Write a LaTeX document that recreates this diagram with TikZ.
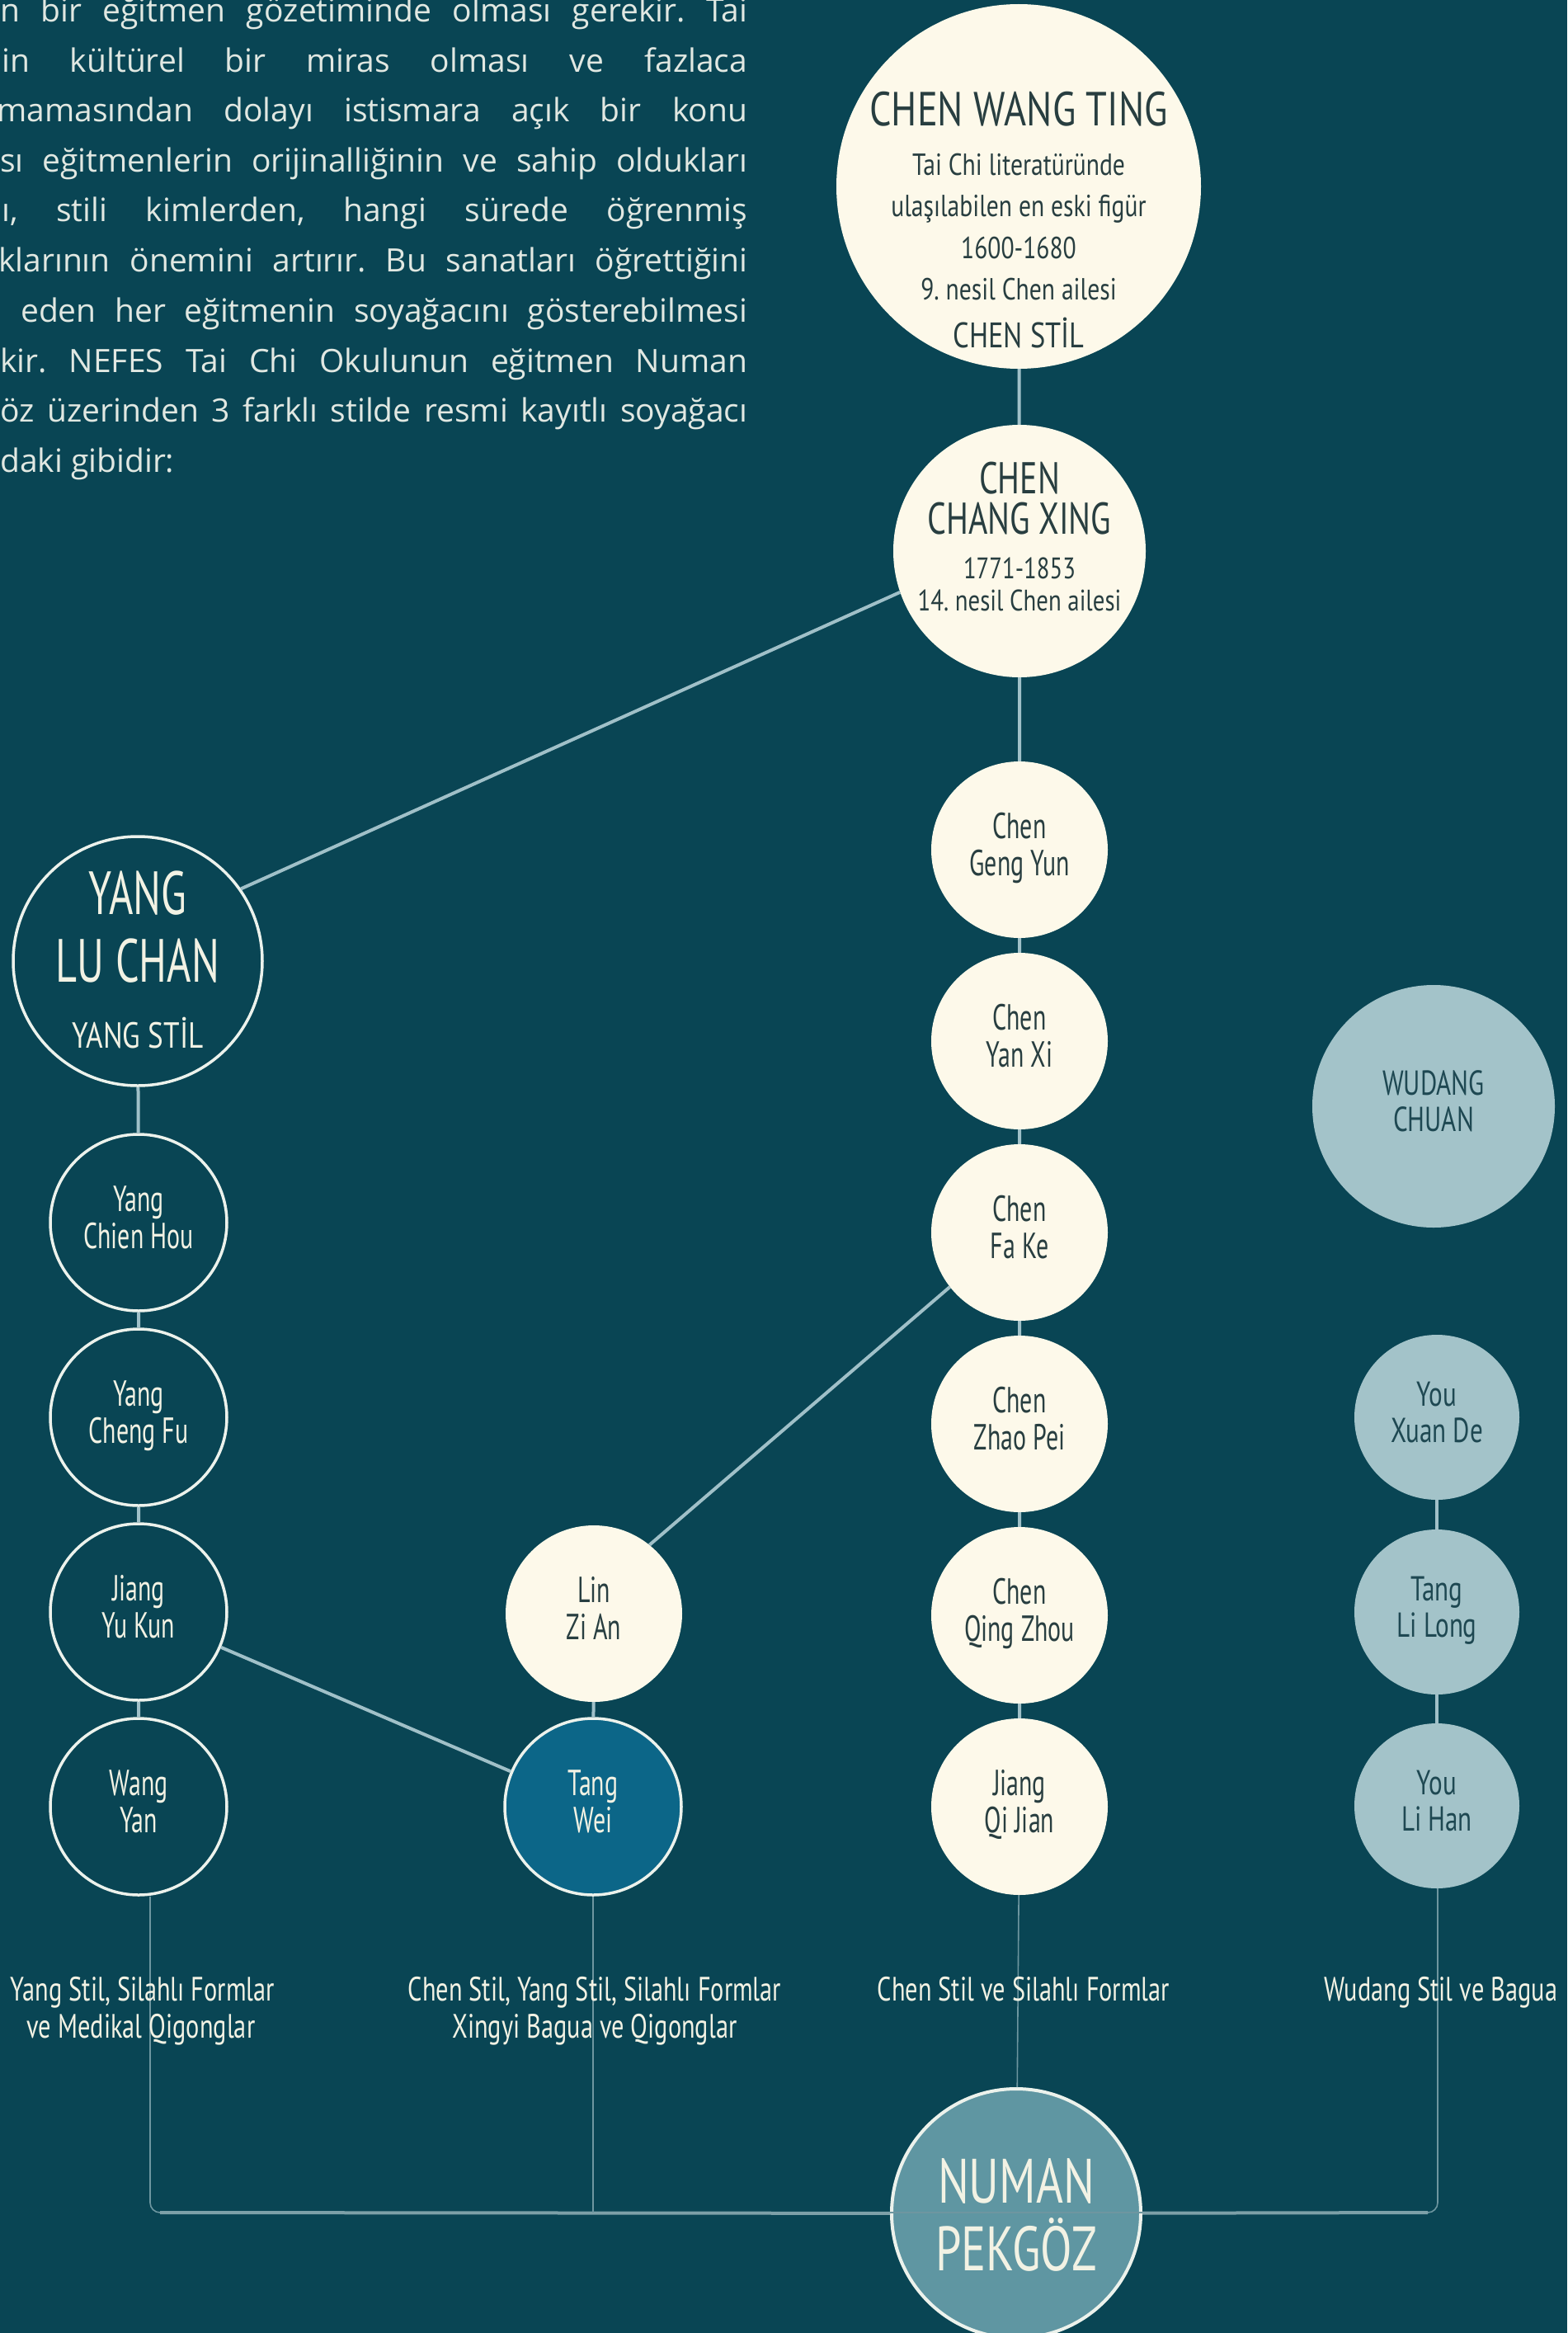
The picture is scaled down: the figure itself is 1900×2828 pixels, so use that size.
\documentclass[tikz,border=0pt]{standalone}
\usepackage{fontspec}
\setmainfont{Open Sans}
\newfontfamily\cond[FakeStretch=0.68]{PT Sans}
\newfontfamily\condw[FakeStretch=0.8]{PT Sans}
\newfontfamily\condm[FakeStretch=0.74]{PT Sans}
\newfontfamily\para{Open Sans}
\definecolor{bg}{RGB}{9,69,84}
\definecolor{cream}{RGB}{253,249,234}
\definecolor{dtxt}{RGB}{40,62,64}
\definecolor{ringc}{RGB}{236,242,236}
\definecolor{connc}{RGB}{160,192,200}
\definecolor{wudc}{RGB}{163,195,201}
\definecolor{wudtxt}{RGB}{30,72,82}
\definecolor{twc}{RGB}{12,102,136}
\definecolor{numc}{RGB}{95,150,162}
\definecolor{ltxt}{RGB}{242,242,228}
\definecolor{thinc}{RGB}{110,150,160}
\definecolor{busc}{RGB}{125,160,168}
\definecolor{ptxt}{RGB}{225,232,226}
\newcommand\twol[2]{\strut #1\\\strut #2}
\frenchspacing
\begin{document}
\begin{tikzpicture}[x=1pt,y=-1pt,
  creamc/.style={circle, fill=cream, draw=none, inner sep=0pt, text=dtxt, align=center, font=\cond\fontsize{44}{43}\selectfont},
  ringn/.style={circle, fill=bg, draw=ringc, line width=3.5pt, inner sep=0pt, text=ltxt, align=center, font=\cond\fontsize{44}{43}\selectfont},
  wudn/.style={circle, fill=wudc, draw=none, inner sep=0pt, text=wudtxt, align=center, font=\condm\fontsize{42}{42}\selectfont},
  small/.style={minimum size=214pt},
  txt/.style={anchor=base, inner sep=0pt},
  conn/.style={draw=connc, line width=4pt},
  thinl/.style={draw=thinc, line width=1.6pt},
  busl/.style={draw=busc, line width=4pt},
  plines/.style={anchor=base west, inner sep=0pt, text=ptxt, font=\para\fontsize{39}{42}\selectfont},
  labl/.style={anchor=base, inner sep=0pt, text=ltxt, font=\condm\fontsize{41}{45}\selectfont}]
\useasboundingbox (0,0) rectangle (1900,2828);
\fill[bg] (0,0) rectangle (1900,2828);

% paragraph
\begin{scope}
\clip (0,0) rectangle (1000,700);
\node[plines] (p1) at (0,27) {\makebox[906pt][s]{n bir eğitmen gözetiminde olması gerekir. Tai}};
\node[plines] (p2) at (2,88) {\makebox[904pt][s]{in kültürel bir miras olması ve fazlaca}};
\node[plines] (p3) at (-4,148) {\makebox[910pt][s]{mamasından dolayı istismara açık bir konu}};
\node[plines] (p4) at (0,209) {\makebox[906pt][s]{sı eğitmenlerin orijinalliğinin ve sahip oldukları}};
\node[plines] (p5) at (2,269) {\makebox[904pt][s]{ı, stili kimlerden, hangi sürede öğrenmiş}};
\node[plines] (p6) at (-2,330) {\makebox[908pt][s]{klarının önemini artırır. Bu sanatları öğrettiğini}};
\node[plines] (p7) at (25,390) {\makebox[881pt][s]{eden her eğitmenin soyağacını gösterebilmesi}};
\node[plines] (p8) at (0,451) {\makebox[906pt][s]{kir. NEFES Tai Chi Okulunun eğitmen Numan}};
\node[plines] (p9) at (0,511) {\makebox[906pt][s]{öz üzerinden 3 farklı stilde resmi kayıtlı soyağacı}};
\node[plines] (p10) at (0,572) {daki gibidir:};
\end{scope}

% Chen column
\node[creamc, minimum size=442pt] (cwt) at (1235,226) {};
\node[txt, text=dtxt, font=\condw\fontsize{58}{58}\selectfont] (cwt1) at (1235,153) {CHEN WANG TING};
\node[txt, text=dtxt, font=\condw\fontsize{37}{37}\selectfont] (cwt2) at (1235,213) {Tai Chi literatüründe};
\node[txt, text=dtxt, font=\condw\fontsize{37}{37}\selectfont] (cwt3) at (1235,263) {ulaşılabilen en eski figür};
\node[txt, text=dtxt, font=\condw\fontsize{37}{37}\selectfont] (cwt4) at (1235,314) {1600-1680};
\node[txt, text=dtxt, font=\condw\fontsize{37}{37}\selectfont] (cwt5) at (1235,363) {9. nesil Chen ailesi};
\node[txt, text=dtxt, font=\condw\fontsize{43}{43}\selectfont] (cwt6) at (1235,421) {CHEN STİL};

\node[creamc, minimum size=306pt] (ccx) at (1236,668) {};
\node[txt, text=dtxt, font=\condm\fontsize{54}{54}\selectfont] (ccx1) at (1236,598) {CHEN};
\node[txt, text=dtxt, font=\condm\fontsize{54}{54}\selectfont] (ccx2) at (1236,647) {CHANG XING};
\node[txt, text=dtxt, font=\condw\fontsize{36}{36}\selectfont] (ccx3) at (1236,701) {1771-1853};
\node[txt, text=dtxt, font=\condw\fontsize{36}{36}\selectfont] (ccx4) at (1236,740) {14. nesil Chen ailesi};

\node[creamc, small] (cgy) at (1236,1030) {\twol{Chen}{Geng Yun}};
\node[creamc, small] (cyx) at (1236,1262) {\twol{Chen}{Yan Xi}};
\node[creamc, small] (cfk) at (1236,1494) {\twol{Chen}{Fa Ke}};
\node[creamc, small] (czp) at (1236,1726) {\twol{Chen}{Zhao Pei}};
\node[creamc, small] (cqz) at (1236,1958) {\twol{Chen}{Qing Zhou}};
\node[creamc, small] (jqj) at (1236,2190) {\twol{Jiang}{Qi Jian}};

% Yang column
\node[ringn, minimum size=302pt] (ylc) at (167,1165) {};
\node[txt, text=ltxt, font=\cond\fontsize{74}{74}\selectfont] (ylc1) at (167,1108) {YANG};
\node[txt, text=ltxt, font=\cond\fontsize{74}{74}\selectfont] (ylc2) at (167,1190) {LU CHAN};
\node[txt, text=ltxt, font=\condw\fontsize{44}{44}\selectfont] (ylc3) at (167,1270) {YANG STİL};
\node[ringn, small] (ych) at (168,1482) {\twol{Yang}{Chien Hou}};
\node[ringn, small] (ycf) at (168,1718) {\twol{Yang}{Cheng Fu}};
\node[ringn, small] (jyk) at (168,1954) {\twol{Jiang}{Yu Kun}};
\node[ringn, small] (wy) at (168,2190) {\twol{Wang}{Yan}};

% middle
\node[creamc, small] (lza) at (720,1956) {\twol{Lin}{Zi An}};
\node[ringn, small, fill=twc] (tw) at (719,2190) {\twol{Tang}{Wei}};

% Wudang
\node[wudn, minimum size=294pt] (wc) at (1738,1341) {\twol{WUDANG}{CHUAN}};
\node[wudn, minimum size=200pt] (yxd) at (1742,1718) {\twol{You}{Xuan De}};
\node[wudn, minimum size=200pt] (tll) at (1742,1954) {\twol{Tang}{Li Long}};
\node[wudn, minimum size=200pt] (ylh) at (1742,2189) {\twol{You}{Li Han}};

% connectors
\draw[conn] (cwt) -- (ccx) -- (cgy) -- (cyx) -- (cfk) -- (czp) -- (cqz) -- (jqj);
\draw[conn] (ccx.199) -- (ylc.35);
\draw[conn] (ylc) -- (ych) -- (ycf) -- (jyk) -- (wy);
\draw[conn] (cfk.218) -- (lza.51);
\draw[conn] (jyk) -- (tw);
\draw[conn] (lza) -- (tw);
\draw[conn] (yxd) -- (tll) -- (ylh);

% bottom
\coordinate (busL) at (182,2682);
\coordinate (busR) at (1743,2682);
\coordinate (busL2) at (194,2682);
\coordinate (busR2) at (1731,2682);
\node[circle, fill=numc, draw=ringc, line width=4pt, minimum size=302pt, inner sep=0pt] (num) at (1232,2683) {};
\draw[thinl, rounded corners=12pt] (wy.south -| busL) -- (busL) -- (busR) -- (ylh.south -| busR);
\draw[busl] (busL2) -- (num);
\draw[busl] (num) -- (busR2);
\draw[thinl] (tw) -- (tw |- busL);
\draw[thinl] (jqj) -- (num);
\node[txt, text=ltxt, font=\condm\fontsize{76}{76}\selectfont] (num1) at (1232,2670) {NUMAN};
\node[txt, text=ltxt, font=\condm\fontsize{76}{76}\selectfont] (num2) at (1232,2752) {PEKGÖZ};

% labels
\node[labl] (lab1a) at (173,2425) {Yang Stil, Silahlı Formlar};
\node[labl] (lab1b) at (171,2470) {ve Medikal Qigonglar};
\node[labl] (lab2a) at (721,2425) {Chen Stil, Yang Stil, Silahlı Formlar};
\node[labl] (lab2b) at (721,2470) {Xingyi Bagua ve Qigonglar};
\node[labl] (lab3) at (1241,2425) {Chen Stil ve Silahlı Formlar};
\node[labl] (lab4) at (1747,2425) {Wudang Stil ve Bagua};
\end{tikzpicture}
\end{document}
